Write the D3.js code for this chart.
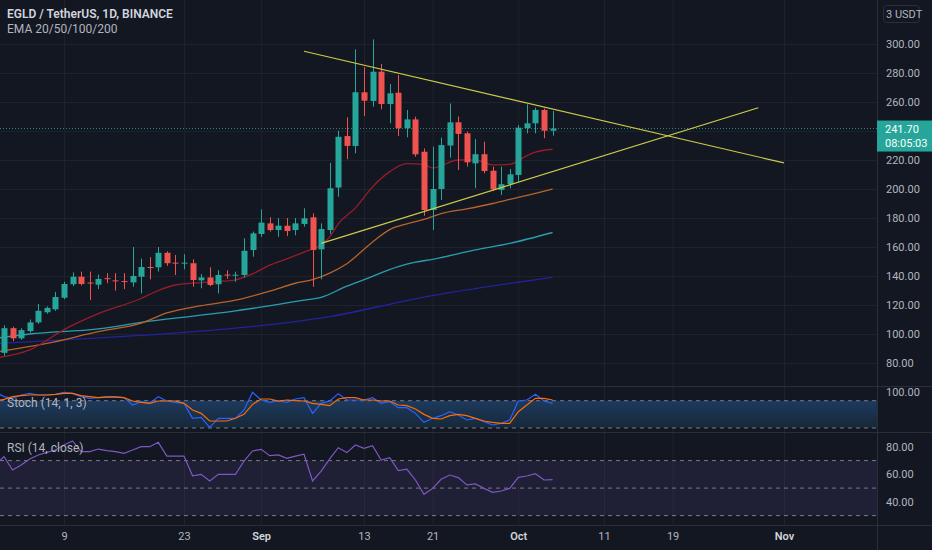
<!DOCTYPE html>
<html>
<head>
<meta charset="utf-8">
<script src="https://cdn.jsdelivr.net/npm/d3@7"></script>
<style>
body{margin:0;background:#131722;}
svg{display:block;font-family:Roboto,"DejaVu Sans",sans-serif;}
</style>
</head>
<body>
<svg id="chart" width="932" height="550"></svg>
<script>
// candles, one per day from Aug 2 to Oct 5 2021
var firstDay = "2021-08-02", lastDay = "2021-10-05";
var opens = [87, 104, 97, 102, 108, 115, 117, 125, 134.3, 139.5,
	135.5, 134, 138.5, 137, 136.5, 135.6, 139.5, 146.2, 146, 156,
	149.2, 148.8, 148.8, 137, 139, 134.3, 141, 140.5, 140.7, 157.9,
	169, 176.3, 171.7, 174.7, 171.7, 175.9, 180.5, 158.4, 171.7, 201,
	236.5, 229.7, 266.7, 260.7, 280.9, 258.6, 266.4, 241.9, 248, 225.7,
	185.5, 200, 230, 246, 238.4, 217.7, 224, 212.6, 199.4, 203.2,
	209.7, 242, 245.3, 254.5, 240.2];
var highs = [106, 105, 104, 110, 120.7, 119, 129, 136, 142.5, 143,
	143, 141, 142, 142, 142, 160, 152, 153, 160, 157,
	154.5, 155, 151.5, 141.4, 146, 144, 144, 143, 166, 170.6,
	186, 180.5, 180, 180, 180, 186.7, 183.2, 176.3, 218, 240.2,
	249.4, 296.3, 284, 303.2, 286.2, 272.4, 278.6, 254.5, 249.9, 228,
	229.2, 235.4, 259, 250, 239.5, 234.5, 232.6, 215.4, 215.4, 213.8,
	244.1, 258.4, 256.1, 255.6, 253.8];
var lows = [85, 95, 96, 101, 107, 114, 116, 124, 133, 133.5,
	123.4, 131, 135, 130, 131, 132.6, 128, 137.7, 143, 147,
	140.7, 144.6, 132.6, 131.5, 133, 128, 138, 136, 139, 153.3,
	167, 170.6, 167, 167.5, 168, 174, 132.6, 137.7, 169, 194.7,
	220.5, 224.6, 250.3, 256.8, 255, 245.3, 236.6, 235.7, 222.3, 181.6,
	171.7, 192.4, 221.6, 213.1, 215.4, 200.5, 210.8, 198.6, 195.9, 200.5,
	205, 238.4, 238.4, 235, 236.8];
var closes = [104, 97, 102.7, 108, 116, 118, 125.5, 134.5, 139.5, 134.5,
	135, 138, 138, 136.5, 136, 140, 146.2, 145.8, 156, 148.8,
	148.8, 149.2, 137.2, 139, 133.8, 140.7, 140.7, 140.9, 157.4, 169.4,
	176.8, 171.7, 174.7, 171, 176.3, 179.8, 158, 172.4, 200.5, 236,
	229.7, 266.7, 260.9, 280.9, 258.6, 266, 241.9, 248, 223.9, 185.5,
	200, 230.3, 246, 238, 218.4, 224, 212.4, 199.8, 203.3, 210.1,
	242.3, 245.3, 254.5, 240.2, 241.7];

// moving averages
var ema20 = [["2021-08-01",83.5],["2021-08-05",89],["2021-08-09",103],["2021-08-13",114],["2021-08-18",124.5],
	["2021-08-20",130],["2021-08-22",133.8],["2021-08-25",135.5],["2021-08-27",136.2],["2021-08-29",137.4],
	["2021-08-31",141.5],["2021-09-02",147.5],["2021-09-04",151.8],["2021-09-06",156.5],["2021-09-08",161.5],
	["2021-09-09",167],["2021-09-10",176],["2021-09-12",187],["2021-09-14",201.5],["2021-09-16",212],
	["2021-09-18",217.5],["2021-09-20",216.8],["2021-09-21",214.5],["2021-09-24",220],["2021-09-26",220],
	["2021-09-28",216.6],["2021-09-30",217],["2021-10-02",223],["2021-10-03",225.5],["2021-10-05",227.4]];
var ema50 = [["2021-08-01",87.5],["2021-08-07",93.5],["2021-08-13",101.6],["2021-08-18",107.5],["2021-08-21",114.5],
	["2021-08-25",119.5],["2021-08-29",123.3],["2021-09-02",129.5],["2021-09-05",135],["2021-09-07",137.5],
	["2021-09-09",142],["2021-09-11",148.5],["2021-09-14",163.5],["2021-09-16",172],["2021-09-18",176],
	["2021-09-20",179],["2021-09-22",183],["2021-09-25",186.3],["2021-09-28",190],["2021-09-30",192.8],
	["2021-10-03",197],["2021-10-05",200]];
var ema100 = [["2021-08-01",97],["2021-08-05",100],["2021-08-13",103.5],["2021-08-18",108],["2021-08-25",113],
	["2021-08-29",116],["2021-09-03",120.5],["2021-09-06",123.4],["2021-09-08",125.3],["2021-09-11",133],
	["2021-09-13",137.5],["2021-09-17",146.5],["2021-09-19",149.5],["2021-09-21",151.5],["2021-09-26",158],
	["2021-09-30",162.5],["2021-10-05",170]];
var ema200 = [["2021-08-01",93.3],["2021-08-09",96],["2021-08-18",99],["2021-08-29",104],["2021-09-09",112],
	["2021-09-20",125.5],["2021-10-05",139.1]];

// triangle lines
var upperLine = [["2021-09-06", 295], ["2021-11-01", 218]];
var lowerLine = [["2021-09-08", 162.5], ["2021-10-29", 256]];

// oscillators, Aug 1 .. Oct 5
var stochK = [99, 88.9, 85.2, 92.5, 96.2, 92.5, 92.5, 94, 98.4, 96.2, 88.9,
	85.2, 86.7, 88.9, 88.9, 86.7, 70.5, 77.9, 74.2, 88.9, 79.3,
	76.4, 74.2, 41.3, 43.4, 21.5, 41.3, 41.3, 41.3, 59.6, 98.4,
	81.5, 76.4, 79.3, 76.4, 83.7, 86.7, 52.2, 74.2, 79.3, 95.5,
	81.5, 81.5, 81.5, 86.7, 74.2, 77.9, 64.7, 64.7, 52.2, 32.5,
	41.3, 47.1, 55.9, 48.6, 37.6, 41.3, 33.9, 26.6, 30.3, 37.6,
	79.3, 81.5, 94, 79.3, 74.2];
var stochD = [79, 83, 88.9, 91, 92.5, 92.5, 92.5, 94, 96.2, 96.2, 91,
	88.9, 86.7, 88, 88, 86.7, 79.3, 76.4, 74.2, 79.3, 79.3,
	79.3, 74.2, 59.6, 52.2, 35.4, 35.4, 35.4, 41.3, 50, 72,
	83.7, 83.7, 79.3, 81.5, 80, 79.3, 74.2, 72, 69.1, 83.7,
	86.7, 86.7, 81.5, 81.5, 79.3, 79.3, 70.5, 69.1, 61.8, 50,
	41.3, 39.8, 47.1, 50, 47.1, 41.3, 35.4, 32.5, 30.3, 30.3,
	55.9, 70.5, 85.2, 85.2, 81.5];
var rsi = [67, 72.9, 63.2, 66.8, 71.2, 74.1, 76, 77.7, 81.3, 84.3, 76.5,
	76.5, 78.4, 77.2, 76.5, 75.3, 77.7, 80.1, 80.1, 83.3, 73.3,
	73.3, 73.3, 59, 60, 55.2, 60, 60, 60, 69.7, 77,
	78.2, 73.6, 74.1, 71.6, 73.3, 74.6, 55.2, 62.4, 71.2, 79.4,
	75.8, 81.3, 78.9, 80.9, 70.4, 72.1, 62.7, 63.7, 55.9, 45.5,
	49.8, 56.4, 59.5, 57.6, 52.3, 53, 49.8, 46.9, 47.9, 49.8,
	57.8, 58.8, 60.5, 55.9, 56.1];

var priceTicks = [80, 100, 120, 140, 160, 180, 200, 220, 260, 280, 300];
var gridPrices = [80, 100, 120, 140, 160, 180, 200, 220, 240, 260, 280, 300];
var stochTicks = [100];
var rsiTicks = [40, 60, 80];
var timeTicks = ["2021-08-09", "2021-08-23", "2021-09-01", "2021-09-13", "2021-09-21",
	"2021-10-01", "2021-10-11", "2021-10-19", "2021-11-01"];
var lastPrice = 241.7, countdown = "08:05:03";

var axisX = 877, mainBottom = 386.5, stochBottom = 432.5, rsiBottom = 525.5;

var parse = d3.utcParse("%Y-%m-%d");
var days = d3.utcDay.range(parse(firstDay), d3.utcDay.offset(parse(lastDay), 1));
var oscDays = [d3.utcDay.offset(days[0], -1)].concat(days);

var x = d3.scaleUtc().domain([parse("2021-08-09"), parse("2021-11-01")]).range([64, 784]);
var y = d3.scaleLinear().domain([80, 300]).range([363, 44]);
var yStoch = d3.scaleLinear().domain([20, 80]).range([428, 400.7]);
var yRsi = d3.scaleLinear().domain([30, 70]).range([515.6, 460.6]);

var svg = d3.select("#chart");
svg.append("rect").attr("width", 932).attr("height", 550).attr("fill", "#131722");

var defs = svg.append("defs");
defs.append("clipPath").attr("id", "clipMain").append("rect")
	.attr("x", 0).attr("y", 0).attr("width", axisX).attr("height", mainBottom);
defs.append("clipPath").attr("id", "clipOsc").append("rect")
	.attr("x", 0).attr("y", mainBottom).attr("width", axisX).attr("height", rsiBottom - mainBottom);
var stochGrad = defs.append("linearGradient").attr("id", "stochFill").attr("x1", 0).attr("x2", 0).attr("y1", 0).attr("y2", 1);
stochGrad.append("stop").attr("offset", "0%").attr("stop-color", "#1d3a5e");
stochGrad.append("stop").attr("offset", "100%").attr("stop-color", "#172838");

// grid
var grid = svg.append("g");
grid.selectAll(".vg").data(timeTicks).enter().append("line")
	.attr("x1", function(d) { return x(parse(d)) + 0.5; })
	.attr("x2", function(d) { return x(parse(d)) + 0.5; })
	.attr("y1", 0).attr("y2", rsiBottom)
	.attr("stroke", "#1e222d");
grid.selectAll(".hg").data(gridPrices).enter().append("line")
	.attr("x1", 0).attr("x2", axisX)
	.attr("y1", function(d) { return Math.round(y(d)) + 0.5; })
	.attr("y2", function(d) { return Math.round(y(d)) + 0.5; })
	.attr("stroke", "#1e222d");

// oscillator band fills
var osc = svg.append("g").attr("clip-path", "url(#clipOsc)");
osc.append("rect").attr("x", 0).attr("width", axisX)
	.attr("y", yStoch(80)).attr("height", yStoch(20) - yStoch(80))
	.attr("fill", "url(#stochFill)");
osc.append("rect").attr("x", 0).attr("width", axisX)
	.attr("y", yRsi(70)).attr("height", yRsi(30) - yRsi(70))
	.attr("fill", "#7e57c2").attr("fill-opacity", 0.12);

[80, 20].forEach(function(v) {
	osc.append("line").attr("x1", 0).attr("x2", axisX)
		.attr("y1", yStoch(v)).attr("y2", yStoch(v))
		.attr("stroke", "#787b86").attr("stroke-dasharray", "4,4");
});
[70, 50, 30].forEach(function(v) {
	osc.append("line").attr("x1", 0).attr("x2", axisX)
		.attr("y1", yRsi(v)).attr("y2", yRsi(v))
		.attr("stroke", "#787b86").attr("stroke-dasharray", "4,4");
});

var lineOsc = function(sc, vals) {
	return d3.line().x(function(d, i) { return x(oscDays[i]); }).y(function(d) { return sc(d); })(vals);
};
osc.append("path").attr("d", lineOsc(yStoch, stochK)).attr("fill", "none").attr("stroke", "#2962ff").attr("stroke-width", 1.2);
osc.append("path").attr("d", lineOsc(yStoch, stochD)).attr("fill", "none").attr("stroke", "#ff6d00").attr("stroke-width", 1.2);
osc.append("path").attr("d", lineOsc(yRsi, rsi)).attr("fill", "none").attr("stroke", "#7e57c2").attr("stroke-width", 1.2);

// main pane
var main = svg.append("g").attr("clip-path", "url(#clipMain)");

var emaLine = d3.line()
	.x(function(d) { return x(parse(d[0])); })
	.y(function(d) { return y(d[1]); })
	.curve(d3.curveMonotoneX);
[[ema200, "#23239a"], [ema100, "#2a9eae"], [ema50, "#b9632a"], [ema20, "#951d29"]].forEach(function(e) {
	main.append("path").attr("d", emaLine(e[0]))
		.attr("fill", "none").attr("stroke", e[1]).attr("stroke-width", 1.3);
});

// last price dotted line
main.append("line").attr("x1", 0).attr("x2", axisX)
	.attr("y1", y(lastPrice)).attr("y2", y(lastPrice))
	.attr("stroke", "#26a69a").attr("stroke-dasharray", "1,2").attr("stroke-opacity", 0.8);

var candles = main.selectAll(".candle").data(days).enter().append("g");
candles.append("line")
	.attr("x1", function(d) { return Math.round(x(d)) + 0.5; })
	.attr("x2", function(d) { return Math.round(x(d)) + 0.5; })
	.attr("y1", function(d, i) { return y(highs[i]); })
	.attr("y2", function(d, i) { return y(lows[i]); })
	.attr("stroke", function(d, i) { return closes[i] >= opens[i] ? "#26a69a" : "#ef5350"; });
candles.append("rect")
	.attr("x", function(d) { return Math.round(x(d)) - 2.5; })
	.attr("width", 6)
	.attr("y", function(d, i) { return y(Math.max(opens[i], closes[i])); })
	.attr("height", function(d, i) { return Math.max(1, Math.abs(y(opens[i]) - y(closes[i]))); })
	.attr("fill", function(d, i) { return closes[i] >= opens[i] ? "#26a69a" : "#ef5350"; });

var trend = d3.line().x(function(d) { return x(parse(d[0])); }).y(function(d) { return y(d[1]); });
[upperLine, lowerLine].forEach(function(l) {
	main.append("path").attr("d", trend(l)).attr("fill", "none")
		.attr("stroke", "#cfcb4a").attr("stroke-width", 1.2);
});

// pane separators + axis border
[mainBottom, stochBottom, rsiBottom].forEach(function(v) {
	svg.append("line").attr("x1", 0).attr("x2", 932).attr("y1", v).attr("y2", v).attr("stroke", "#2a2e39");
});
svg.append("line").attr("x1", axisX + 0.5).attr("x2", axisX + 0.5).attr("y1", 0).attr("y2", 550).attr("stroke", "#2a2e39");

// axes
var styleAxis = function(g) {
	g.select(".domain").remove();
	g.attr("font-family", null).attr("font-size", null);
	g.selectAll("text").attr("fill", "#b2b5be").style("font-size", "11px");
};
svg.append("g").attr("transform", "translate(" + axisX + ",0)")
	.call(d3.axisRight(y).tickValues(priceTicks).tickFormat(d3.format(".2f")).tickSize(0).tickPadding(9))
	.call(styleAxis);
svg.append("g").attr("transform", "translate(" + axisX + ",0)")
	.call(d3.axisRight(yStoch).tickValues(stochTicks).tickFormat(d3.format(".2f")).tickSize(0).tickPadding(9))
	.call(styleAxis);
svg.append("g").attr("transform", "translate(" + axisX + ",0)")
	.call(d3.axisRight(yRsi).tickValues(rsiTicks).tickFormat(d3.format(".2f")).tickSize(0).tickPadding(9))
	.call(styleAxis);

var fmtTime = function(d) { return d.getUTCDate() == 1 ? d3.utcFormat("%b")(d) : d3.utcFormat("%-d")(d); };
var xAxisG = svg.append("g").attr("transform", "translate(0," + rsiBottom + ")")
	.call(d3.axisBottom(x).tickValues(timeTicks.map(parse)).tickFormat(fmtTime).tickSize(0).tickPadding(7))
	.call(styleAxis);
xAxisG.selectAll("text").filter(function(d) { return d.getUTCDate() == 1; })
	.attr("fill", "#d1d4dc").style("font-weight", "600");

// last price label
svg.append("rect").attr("x", axisX).attr("y", y(lastPrice) - 8).attr("width", 55).attr("height", 31)
	.attr("fill", "#26a69a");
svg.append("text").attr("x", axisX + 8).attr("y", y(lastPrice) + 4).text(d3.format(".2f")(lastPrice))
	.attr("fill", "#ffffff").style("font-size", "11px");
svg.append("text").attr("x", axisX + 8).attr("y", y(lastPrice) + 18).text(countdown)
	.attr("fill", "#ffffff").style("font-size", "11px");

// currency box
svg.append("rect").attr("x", 883.5).attr("y", 5.5).attr("width", 36).attr("height", 17).attr("rx", 3)
	.attr("fill", "none").attr("stroke", "#2a2e39");
svg.append("text").attr("x", 886).attr("y", 18).text("3 USDT")
	.attr("fill", "#b2b5be").style("font-size", "11px");

// legends
svg.append("text").attr("x", 7).attr("y", 18).text("EGLD / TetherUS, 1D, BINANCE")
	.attr("fill", "#d1d4dc").style("font-size", "12px").style("font-weight", "600");
svg.append("text").attr("x", 7).attr("y", 33).text("EMA 20/50/100/200")
	.attr("fill", "#b2b5be").style("font-size", "12px");
svg.append("text").attr("x", 7).attr("y", 407).text("Stoch (14, 1, 3)")
	.attr("fill", "#b2b5be").style("font-size", "12px");
svg.append("text").attr("x", 7).attr("y", 452).text("RSI (14, close)")
	.attr("fill", "#b2b5be").style("font-size", "12px");
</script>
</body>
</html>
